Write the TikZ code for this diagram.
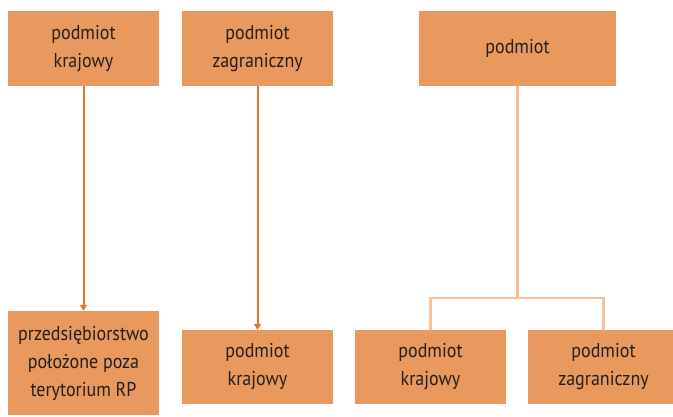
\documentclass[tikz,border=0pt]{standalone}
\usepackage{fontspec}
\setmainfont[FakeStretch=0.9]{PT Sans}
\usetikzlibrary{arrows.meta}
\definecolor{boxfill}{HTML}{E9995E}
\definecolor{darkline}{HTML}{E8722A}
\definecolor{lightline}{HTML}{F7C09A}
\definecolor{inktext}{HTML}{231F20}
\begin{document}
\begin{tikzpicture}[x=1pt,y=-1pt,
  box/.style={fill=boxfill,draw=none,inner sep=0pt,text=inktext,
    font=\fontsize{20}{28}\selectfont,align=center},
  arr/.style={draw=darkline,line width=2pt,-{Triangle[length=6pt,width=7pt]}},
  tree/.style={draw=lightline,line width=2.6pt}]
\useasboundingbox (0,0) rectangle (673,416);
% upper boxes
\node[box,minimum width=151pt,minimum height=75pt] (a) at (83.5,48.5) {podmiot\\krajowy};
\node[box,minimum width=151pt,minimum height=75pt] (b) at (257.5,48.5) {podmiot\\zagraniczny};
\node[box,minimum width=197pt,minimum height=75pt] (c) at (517.5,48.5) {podmiot};
% lower boxes
\node[box,minimum width=151pt,minimum height=104pt] (d) at (83.5,363) {przedsiębiorstwo\\położone poza\\terytorium RP};
\node[box,minimum width=151pt,minimum height=74pt] (e) at (257.5,367) {podmiot\\krajowy};
\node[box,minimum width=151pt,minimum height=74pt] (f) at (430.5,367) {podmiot\\krajowy};
\node[box,minimum width=151pt,minimum height=74pt] (g) at (603.5,367) {podmiot\\zagraniczny};
% connectors
\draw[arr] (a.south) -- (d.north);
\draw[arr] (b.south) -- (e.north);
\coordinate (fork) at (517.5,298);
\draw[tree] (c.south) -- (fork);
\draw[tree] (f.north) |- (fork) -| (g.north);
\end{tikzpicture}
\end{document}
